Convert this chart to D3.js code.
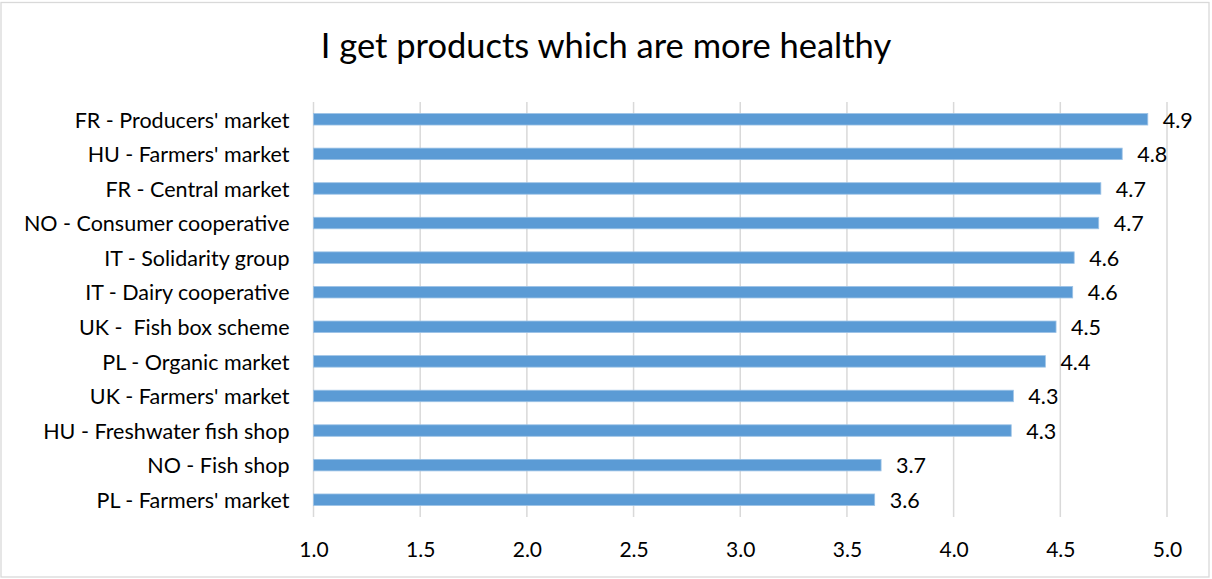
<!DOCTYPE html>
<html>
<head>
<meta charset="utf-8">
<script src="https://cdn.jsdelivr.net/npm/d3@7"></script>
<style>
  html, body { margin: 0; padding: 0; background: #fff; }
  svg { display: block; }
  text { font-family: Lato, "Open Sans", sans-serif; fill: #000; white-space: pre; }
</style>
</head>
<body>
<svg id="chart" width="1212" height="579"></svg>
<script>
const title = "I get products which are more healthy";
const categories = [
  "FR - Producers' market",
  "HU - Farmers' market",
  "FR - Central market",
  "NO - Consumer cooperative",
  "IT - Solidarity group",
  "IT - Dairy cooperative",
  "UK -  Fish box scheme",
  "PL - Organic market",
  "UK - Farmers' market",
  "HU - Freshwater fish shop",
  "NO - Fish shop",
  "PL - Farmers' market"
];
const values = [4.91, 4.79, 4.69, 4.68, 4.565, 4.558, 4.48, 4.43, 4.28, 4.27, 3.66, 3.63];
const xTicks = [1.0, 1.5, 2.0, 2.5, 3.0, 3.5, 4.0, 4.5, 5.0];

const W = 1212, H = 579;
const margin = { left: 313.5, right: W - 1167, top: 102, bottom: H - 517 };
const svg = d3.select("#chart");

svg.append("rect")
  .attr("x", 1).attr("y", 2.5).attr("width", W - 4).attr("height", H - 4.5)
  .attr("fill", "#fff").attr("stroke", "#d9d9d9").attr("stroke-width", 1.3);

const x = d3.scaleLinear().domain([1, 5]).range([margin.left, W - margin.right]);
const y = d3.scaleBand().domain(categories).range([margin.top, H - margin.bottom]).paddingInner(0.667).paddingOuter(0.333);

// gridlines
svg.append("g").selectAll("line").data(xTicks).join("line")
  .attr("x1", d => x(d)).attr("x2", d => x(d))
  .attr("y1", margin.top).attr("y2", H - margin.bottom)
  .attr("stroke", "#d9d9d9").attr("stroke-width", 1.5);

// x tick labels
const xAxis = d3.axisBottom(x).tickValues(xTicks).tickFormat(d3.format(".1f")).tickSize(0).tickPadding(0);
const gx = svg.append("g").attr("transform", `translate(0, ${H - margin.bottom})`).call(xAxis);
gx.select(".domain").remove();
gx.selectAll("text").attr("dy", null).attr("y", 40).style("font-size", "21px").style("font-family", "Lato, sans-serif").attr("fill", "#000");

// y labels
const yAxis = d3.axisLeft(y).tickSize(0).tickPadding(0);
const gy = svg.append("g").attr("transform", `translate(289.5, 0)`).call(yAxis);
gy.select(".domain").remove();
gy.selectAll("text").attr("dy", "0.36em").attr("y", 0.5).style("font-size", "21.5px").style("font-family", "Lato, sans-serif").style("white-space", "pre").attr("fill", "#000");

// bars
svg.append("g").selectAll("rect").data(values).join("rect")
  .attr("x", x(1))
  .attr("y", (d, i) => y(categories[i]))
  .attr("width", d => x(d) - x(1))
  .attr("height", y.bandwidth())
  .attr("fill", "#5b9bd5")
  .attr("stroke", "#9dc3e6").attr("stroke-width", 0.8);

// value labels
svg.append("g").selectAll("text").data(values).join("text")
  .attr("x", d => x(d) + 15)
  .attr("y", (d, i) => y(categories[i]) + y.bandwidth() / 2 + 0.5)
  .attr("dy", "0.36em")
  .style("font-size", "21.5px")
  .text(d => d3.format(".1f")(d));

// title
svg.append("text")
  .attr("x", 606).attr("y", 58.3)
  .attr("text-anchor", "middle")
  .style("font-size", "34.5px")
  .text(title);
</script>
</body>
</html>
